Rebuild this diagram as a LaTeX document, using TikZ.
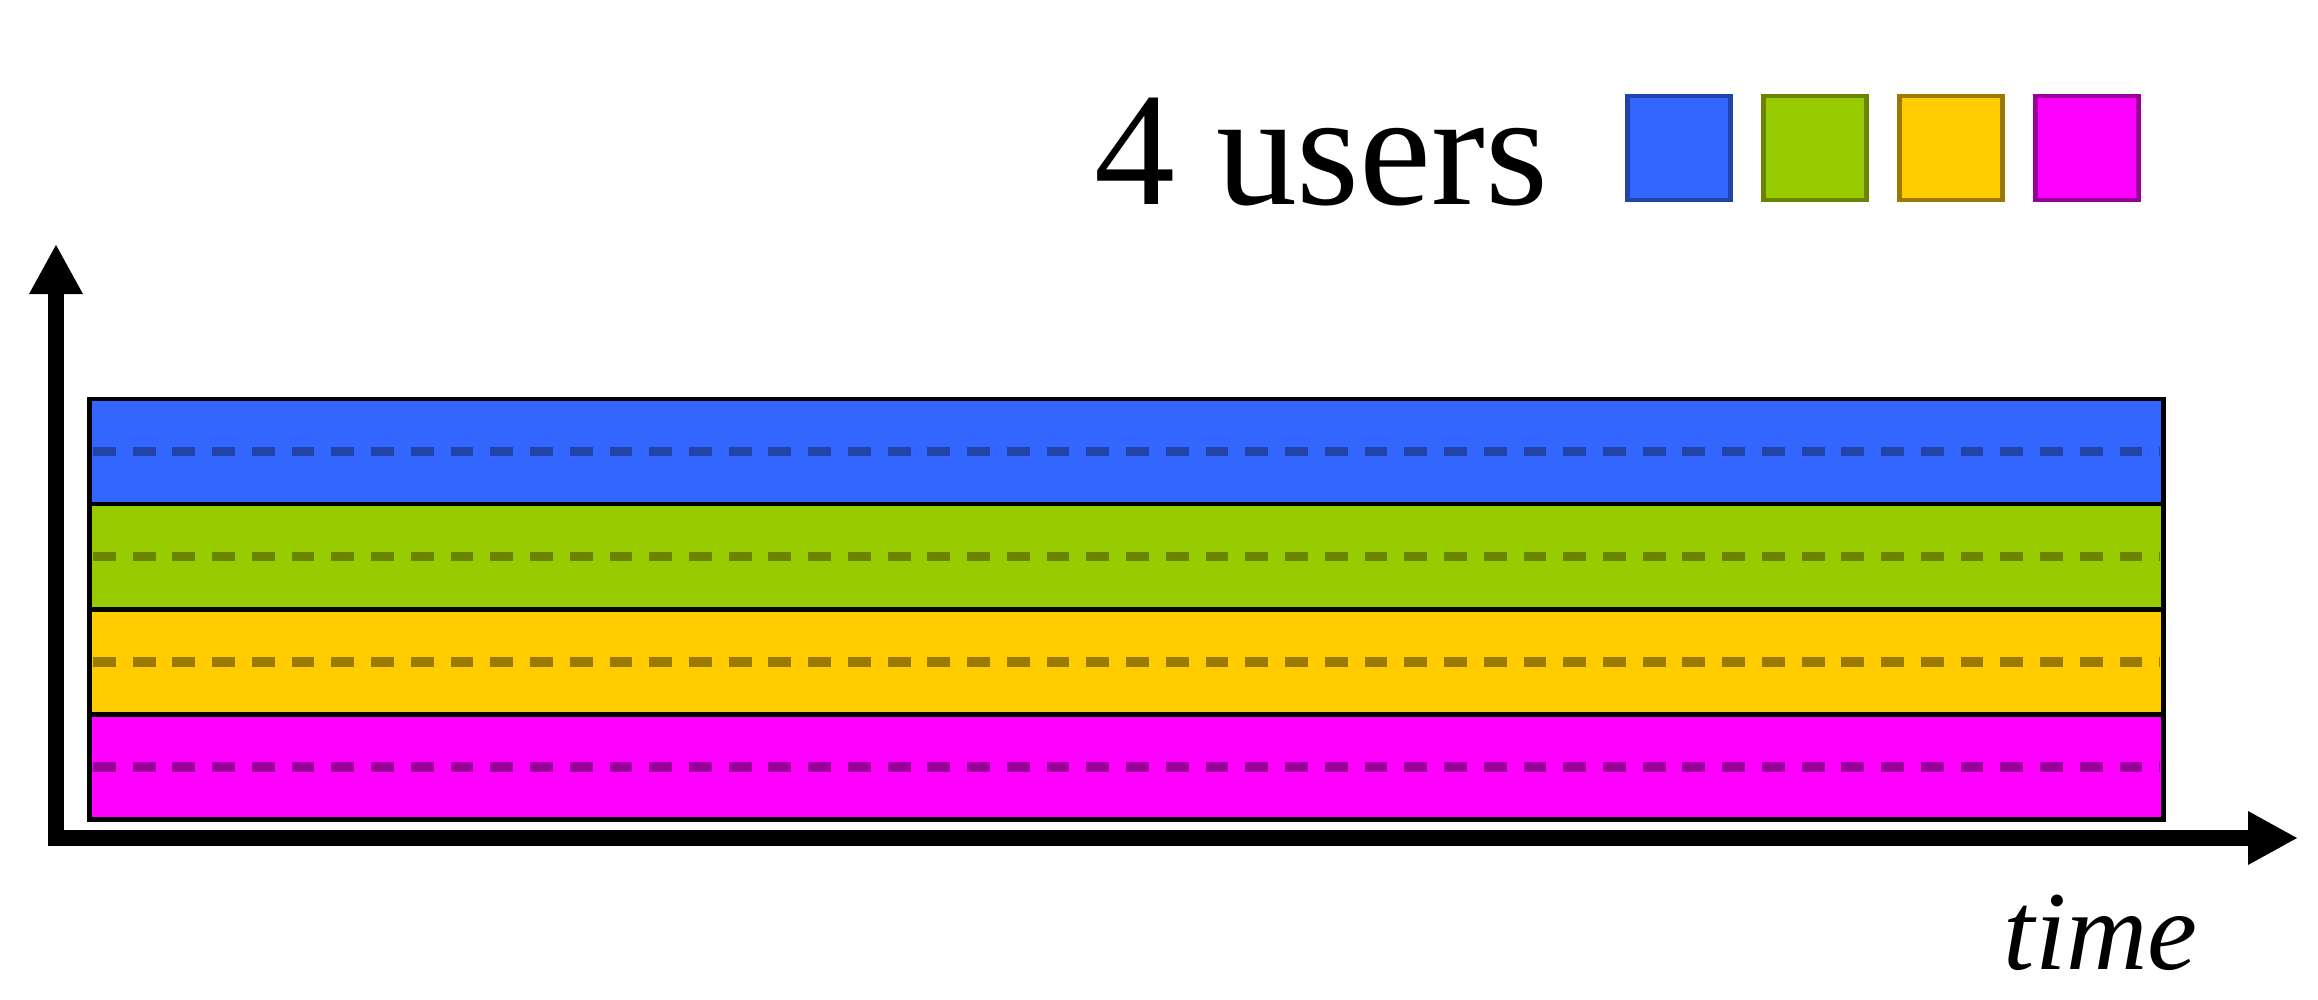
\documentclass[tikz,border=0pt]{standalone}
\usepackage{fontspec}
\setmainfont{Liberation Serif}
\usepackage{xcolor}
\usepackage{tikz}
\usetikzlibrary{shapes,arrows,arrows.meta,positioning}
\definecolor{userblue}{HTML}{3366FF}
\definecolor{usergreen}{HTML}{99CC00}
\definecolor{useryellow}{HTML}{FFCC00}
\definecolor{usermagenta}{HTML}{FF00FF}
\definecolor{blueslot}{HTML}{2244A8}
\definecolor{greenslot}{HTML}{6A8400}
\definecolor{yellowslot}{HTML}{9A7A00}
\definecolor{magentaslot}{HTML}{990099}
\tikzstyle{band} = [rectangle, draw, line width=1.4pt, minimum width=20.73cm,
    minimum height=1.05cm, inner sep=0pt, outer sep=0pt]
\tikzstyle{slot} = [draw, line width=2.8pt, dash pattern=on 6.5pt off 4.8pt,
    shorten <=1pt, shorten >=1pt]
\tikzstyle{swatch} = [rectangle, draw, line width=1.4pt, minimum width=1.03cm,
    minimum height=1.04cm, inner sep=0pt, outer sep=0pt, node distance=0.33cm]
\tikzstyle{axis} = [draw, line width=4.6pt, line join=miter,
    {Triangle[length=0.5cm,width=0.5cm]}-{Triangle[length=0.5cm,width=0.5cm]}]

\begin{document}
\begin{tikzpicture}[x=0.01cm, y=-0.01cm]
    \useasboundingbox (0,0) rectangle (2318,1000);
    % Place nodes
    \node [band, fill=userblue] (blue) at (1126.5,451.5) {};
    \node [band, fill=usergreen, below=0pt of blue] (green) {};
    \node [band, fill=useryellow, below=0pt of green] (yellow) {};
    \node [band, fill=usermagenta, below=0pt of yellow] (magenta) {};
    \node [swatch, fill=userblue, draw=blueslot] (kblue) at (1679,148) {};
    \node [swatch, fill=usergreen, draw=greenslot, right=of kblue] (kgreen) {};
    \node [swatch, fill=useryellow, draw=yellowslot, right=of kgreen] (kyellow) {};
    \node [swatch, fill=usermagenta, draw=magentaslot, right=of kyellow] (kmagenta) {};
    \node [anchor=base west, inner sep=0pt, font=\fontsize{46}{50}\selectfont]
        (users) at (1094,204) {4 users};
    \node [anchor=base west, inner sep=0pt, font=\fontsize{32}{36}\selectfont\itshape]
        (time) at (2003,969) {time};
    \coordinate (origin) at (56,838);
    \coordinate (ytop) at (56,244);
    \coordinate (xend) at (2298,838);
    % Draw edges
    \path [slot, draw=blueslot] (blue.west) -- (blue.east);
    \path [slot, draw=greenslot] (green.west) -- (green.east);
    \path [slot, draw=yellowslot] (yellow.west) -- (yellow.east);
    \path [slot, draw=magentaslot] (magenta.west) -- (magenta.east);
    \path [axis] (ytop) -- (origin) -- (xend);
\end{tikzpicture}
\end{document}
